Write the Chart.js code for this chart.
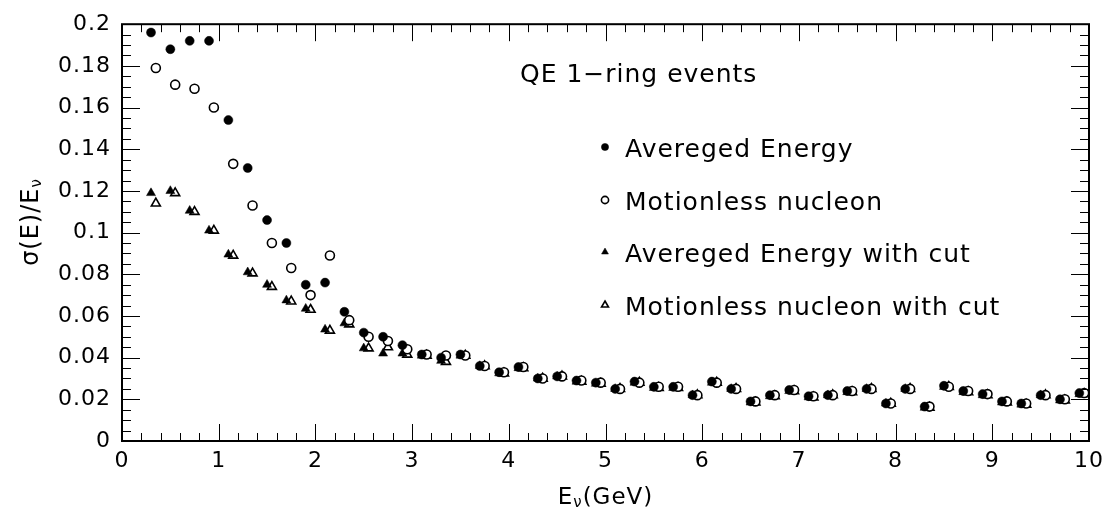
<!DOCTYPE html>
<html>
<head>
<meta charset="utf-8">
<script src="https://cdn.jsdelivr.net/npm/chart.js@4.4.0/dist/chart.umd.min.js"></script>
<style>
    html, body { margin: 0; padding: 0; background: #fff; }
    #wrap { width: 1110px; height: 518px; }
</style>
</head>
<body>
<div id="wrap"><canvas id="resChart" width="1110" height="518"></canvas></div>
<script>
// neutrino energy bin centres (GeV)
const energies = [0.3, 0.5, 0.7, 0.9, 1.1, 1.3, 1.5, 1.7, 1.9, 2.1,
    2.3, 2.5, 2.7, 2.9, 3.1, 3.3, 3.5, 3.7, 3.9, 4.1,
    4.3, 4.5, 4.7, 4.9, 5.1, 5.3, 5.5, 5.7, 5.9, 6.1,
    6.3, 6.5, 6.7, 6.9, 7.1, 7.3, 7.5, 7.7, 7.9, 8.1,
    8.3, 8.5, 8.7, 8.9, 9.1, 9.3, 9.5, 9.7, 9.9];
const MOTIONLESS_SHIFT = 0.05; // motionless points are drawn slightly to the right

const avgEnergy = [0.196, 0.188, 0.192, 0.192, 0.154, 0.131, 0.106, 0.095, 0.075, 0.076,
    0.062, 0.052, 0.050, 0.046, 0.0415, 0.040, 0.0415, 0.036, 0.033, 0.0355,
    0.030, 0.031, 0.029, 0.028, 0.025, 0.0285, 0.026, 0.026, 0.022, 0.0285,
    0.025, 0.019, 0.022, 0.0245, 0.0215, 0.022, 0.024, 0.025, 0.018, 0.025,
    0.0165, 0.0265, 0.024, 0.0225, 0.019, 0.018, 0.022, 0.020, 0.023];
const motionless = [0.179, 0.171, 0.169, 0.160, 0.133, 0.113, 0.095, 0.083, 0.070, 0.089,
    0.058, 0.050, 0.048, 0.044, 0.0415, 0.041, 0.041, 0.036, 0.033, 0.0355,
    0.030, 0.031, 0.029, 0.028, 0.025, 0.028, 0.026, 0.026, 0.022, 0.028,
    0.025, 0.019, 0.022, 0.0245, 0.0215, 0.022, 0.024, 0.025, 0.018, 0.025,
    0.0165, 0.026, 0.024, 0.0225, 0.019, 0.018, 0.022, 0.020, 0.023];
const avgEnergyCut = [0.119, 0.120, 0.1105, 0.101, 0.0895, 0.081, 0.075, 0.0675, 0.0635, 0.0535,
    0.0565, 0.0445, 0.042, 0.042, 0.041, 0.0385, 0.041, 0.036, 0.0325, 0.035,
    0.030, 0.031, 0.0285, 0.0275, 0.025, 0.028, 0.0255, 0.0255, 0.022, 0.028,
    0.025, 0.0185, 0.0215, 0.024, 0.021, 0.022, 0.0235, 0.025, 0.018, 0.025,
    0.016, 0.026, 0.0235, 0.022, 0.0185, 0.0175, 0.022, 0.0195, 0.0225];
const motionlessCut = [0.114, 0.119, 0.110, 0.101, 0.089, 0.0805, 0.074, 0.067, 0.063, 0.053,
    0.056, 0.0445, 0.045, 0.0415, 0.041, 0.038, 0.041, 0.036, 0.0325, 0.035,
    0.030, 0.031, 0.0285, 0.0275, 0.025, 0.028, 0.0255, 0.0255, 0.022, 0.028,
    0.025, 0.0185, 0.0215, 0.024, 0.021, 0.022, 0.0235, 0.025, 0.018, 0.025,
    0.016, 0.026, 0.0235, 0.022, 0.0185, 0.0175, 0.022, 0.0195, 0.0225];

const xTickLabels = ['0', '1', '2', '3', '4', '5', '6', '7', '8', '9', '10'];
const yTickLabels = ['0', '0.02', '0.04', '0.06', '0.08', '0.1', '0.12', '0.14', '0.16', '0.18', '0.2'];

const FONT = '"DejaVu Sans", "Liberation Sans", sans-serif';

function points(xs, ys, shift) {
    return xs.map((x, i) => ({ x: x + shift, y: ys[i] }));
}

// wider PAW-like lettering for every text the chart draws
const spacing = {
    id: 'spacing',
    beforeDraw(chart) { chart.ctx.letterSpacing = '1px'; }
};

// frame with inward ticks on all four sides
const frameTicks = {
    id: 'frameTicks',
    afterDraw(chart) {
        const ctx = chart.ctx;
        const a = chart.chartArea;
        const xs = chart.scales.x, ys = chart.scales.y;
        ctx.save();
        ctx.strokeStyle = '#000';
        ctx.lineWidth = 1;
        ctx.beginPath();
        for (let k = 0; k <= 50; k++) {
            const px = Math.round(xs.getPixelForValue(k * 0.2)) + 0.5;
            const len = k % 5 === 0 ? 17 : 8;
            ctx.moveTo(px, a.bottom); ctx.lineTo(px, a.bottom - len);
            ctx.moveTo(px, a.top); ctx.lineTo(px, a.top + len);
        }
        for (let k = 0; k <= 40; k++) {
            const py = Math.round(ys.getPixelForValue(k * 0.005)) + 0.5;
            const len = k % 4 === 0 ? 18 : 9;
            ctx.moveTo(a.left, py); ctx.lineTo(a.left + len, py);
            ctx.moveTo(a.right, py); ctx.lineTo(a.right - len, py);
        }
        ctx.stroke();
        ctx.lineWidth = 2;
        ctx.strokeRect(a.left, a.top, a.right - a.left, a.bottom - a.top);
        ctx.restore();
    }
};

// axis titles with subscripts, the caption and the in-frame legend
const annotations = {
    id: 'annotations',
    afterDraw(chart) {
        const ctx = chart.ctx;
        const a = chart.chartArea;
        ctx.save();
        ctx.fillStyle = '#000';
        ctx.textBaseline = 'alphabetic';
        ctx.textAlign = 'left';
        ctx.letterSpacing = '1px';

        // x title: E_nu(GeV)
        ctx.font = '23px ' + FONT;
        const w1 = ctx.measureText('E').width;
        const w3 = ctx.measureText('(GeV)').width;
        ctx.font = '15px ' + FONT;
        const w2 = ctx.measureText('ν').width;
        const x0 = (a.left + a.right) / 2 - (w1 + w2 + w3) / 2;
        const yb = 504;
        ctx.font = '23px ' + FONT;
        ctx.fillText('E', x0, yb);
        ctx.fillText('(GeV)', x0 + w1 + w2, yb);
        ctx.font = '15px ' + FONT;
        ctx.fillText('ν', x0 + w1, yb + 3);

        // y title: sigma(E)/E_nu, rotated
        ctx.save();
        ctx.translate(38, 222);
        ctx.rotate(-Math.PI / 2);
        ctx.font = '24px ' + FONT;
        const m1 = ctx.measureText('σ(E)/E').width;
        ctx.font = '15px ' + FONT;
        const m2 = ctx.measureText('ν').width;
        const y0 = -(m1 + m2) / 2;
        ctx.font = '24px ' + FONT;
        ctx.fillText('σ(E)/E', y0, 0);
        ctx.font = '15px ' + FONT;
        ctx.fillText('ν', y0 + m1, 3);
        ctx.restore();

        // caption and legend
        ctx.font = '25px ' + FONT;
        ctx.fillText('QE 1\u2212ring events', 520, 82);

        const rows = [157, 210, 262, 315];
        chart.data.datasets.forEach((ds, i) => {
            const cy = rows[i] - 10;
            ctx.fillStyle = ds.backgroundColor;
            ctx.strokeStyle = ds.borderColor;
            ctx.lineWidth = ds.borderWidth;
            Chart.helpers.drawPoint(ctx, {
                pointStyle: ds.pointStyle,
                radius: ds.pointStyle === 'triangle' ? 4 : 3.6,
                rotation: 0,
                borderWidth: ds.borderWidth
            }, 605, cy);
            ctx.fillStyle = '#000';
            ctx.fillText(ds.label, 625, rows[i]);
        });
        ctx.restore();
    }
};

document.addEventListener('DOMContentLoaded', function() {
    const ctx = document.getElementById('resChart').getContext('2d');
    new Chart(ctx, {
        type: 'scatter',
        data: {
            datasets: [{
                label: 'Avereged Energy',
                data: points(energies, avgEnergy, 0),
                pointStyle: 'circle',
                pointRadius: 4.5,
                backgroundColor: '#000',
                borderColor: '#000',
                borderWidth: 0.5
            }, {
                label: 'Motionless nucleon',
                data: points(energies, motionless, MOTIONLESS_SHIFT),
                pointStyle: 'circle',
                pointRadius: 4.5,
                backgroundColor: '#fff',
                borderColor: '#000',
                borderWidth: 1.6
            }, {
                label: 'Avereged Energy with cut',
                data: points(energies, avgEnergyCut, 0),
                pointStyle: 'triangle',
                pointRadius: 5.2,
                backgroundColor: '#000',
                borderColor: '#000',
                borderWidth: 0.5
            }, {
                label: 'Motionless nucleon with cut',
                data: points(energies, motionlessCut, MOTIONLESS_SHIFT),
                pointStyle: 'triangle',
                pointRadius: 5.2,
                backgroundColor: '#fff',
                borderColor: '#000',
                borderWidth: 1.6
            }]
        },
        options: {
            responsive: false,
            animation: false,
            events: [],
            layout: { padding: { top: 18, right: 20, left: 0, bottom: 0 } },
            plugins: {
                legend: { display: false },
                tooltip: { enabled: false }
            },
            scales: {
                x: {
                    type: 'linear',
                    min: 0,
                    max: 10,
                    afterFit: (s) => { s.height = 77; },
                    grid: { display: false, drawTicks: false },
                    border: { display: false },
                    ticks: {
                        stepSize: 1,
                        padding: 7,
                        maxRotation: 0,
                        color: '#000',
                        font: { family: FONT, size: 22 },
                        callback: (v) => xTickLabels[Math.round(v)]
                    }
                },
                y: {
                    type: 'linear',
                    min: 0,
                    max: 0.2,
                    afterFit: (s) => { s.width = 122; },
                    grid: { display: false, drawTicks: false },
                    border: { display: false },
                    ticks: {
                        stepSize: 0.02,
                        padding: 11,
                        color: '#000',
                        font: { family: FONT, size: 22 },
                        callback: (v) => yTickLabels[Math.round(v / 0.02)]
                    }
                }
            }
        },
        plugins: [spacing, frameTicks, annotations]
    });
});
</script>
</body>
</html>
